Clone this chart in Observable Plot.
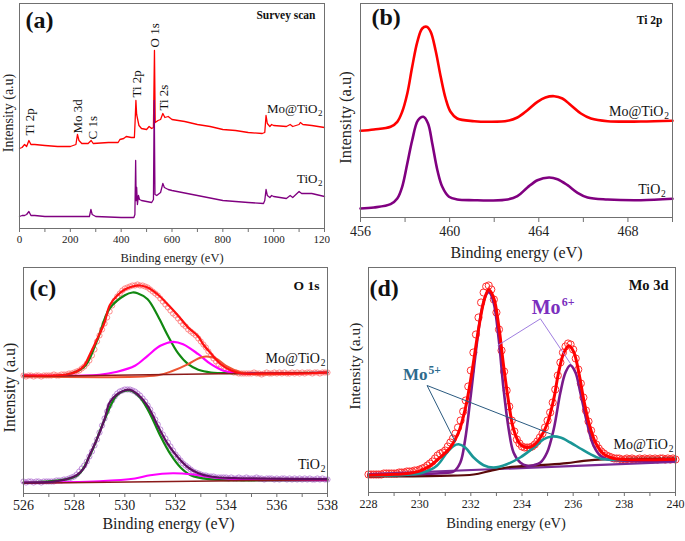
<!DOCTYPE html>
<html><head><meta charset="utf-8">
<script src="https://cdn.jsdelivr.net/npm/d3@7"></script>
<script src="https://cdn.jsdelivr.net/npm/@observablehq/plot@0.6"></script>
<style>
html,body{margin:0;padding:0;background:#fff;}
#fig{position:relative;width:685px;height:541px;overflow:hidden;}
</style></head><body><div id="fig"></div>
<script>
// ---------- (a) survey scan ----------
const surveyMoE = [0,10,20,28,37,45,60,100,150,200,222,228,234,245,270,282,290,350,388,395,410,420,440,452,455,458,461,465,470,480,500,510,520,527,531,534,545,555,564,572,585,600,650,700,750,800,850,900,955,965,970,975,985,992,1000,1050,1065,1075,1100,1105,1115,1150,1200];
const surveyMoV = [80,81,84,82,88,84,84,83,82,82,84,94,88,85,85,88,85,86,86,89,90,92,91,91,108,128,114,109,103,100,99,102,100,101,178,106,108,109,115,111,112,109,107,104,102,99,98,96,95,96,113,105,102,104,103,102,104,102,104,106,104,103,101];
const surveyTiE = [0,10,20,28,37,45,60,100,200,275,281,286,300,400,450,454,457,459,461,464,468,472,480,500,520,527,530,533,540,555,564,570,585,600,700,800,900,960,965,970,975,985,992,1000,1050,1065,1075,1100,1110,1150,1200];
const surveyTiV = [12,13,13,14,17,13,13,12,12,12,19,14,12,11,11,14,68,28,41,24,33,29,28,27,26,29,128,34,33,36,45,41,39,38,33,28,26,25,28,39,33,31,33,32,30,33,31,37,35,35,32];
const surveyMajor = [0,200,400,600,800,1000,1200];
const surveyMinor = [100,300,500,700,900,1100];
const surveyPeakNames = ["Ti 2p","Mo 3d","C 1s","Ti 2p","O 1s","Ti 2s"];
const surveyPeakE = [39,230,289,460,533,568];
const surveyPeakV = [93,95,89,131,181,118];
const seriesNames = ["Mo@TiO","TiO"];
const seriesSubs = ["2","2"];
const surveyLabelE = [1192,1192];
const surveyLabelV = [116,46];

// ---------- (b) Ti 2p ----------
const ti2pMoE = [456,456.6,457.35,457.65,457.87,458.1,458.32,458.55,458.77,458.97,459.15,459.37,459.6,459.82,460.04,460.34,461.1,461.84,462.6,463.04,463.49,463.94,464.3,464.69,465.06,465.44,465.89,466.34,467.09,468.58,470];
const ti2pMoV = [86.7,88,90.7,95.7,105.7,124,150.7,175.7,189,190.7,185.7,167,140.7,119,105.7,99,96.3,95.7,96.7,100,107.3,115.7,120,121.3,119,112.3,104,99,96.3,96,96.7];
const ti2pTiE = [456,456.6,457.35,457.65,457.87,458.1,458.32,458.58,458.82,459.03,459.22,459.45,459.67,459.97,460.34,461.1,461.84,462.6,463.04,463.49,463.94,464.46,464.84,465.29,465.74,466.19,467.09,468.58,470];
const ti2pTiV = [9,10,13.3,19,30.7,54,77.3,97.3,100.7,94,74,47.3,30.7,20.7,18,17.3,17,18,21.3,30,37.3,40,38.3,32.3,24.7,20,18,17.3,18.7];
const ti2pMajor = [456,460,464,468];
const ti2pMinor = [458,462,466,470];
const ti2pLabelE = [469.84,469.7];
const ti2pLabelV = [102,24];

// ---------- (c) O 1s ----------
const o1sStart = 526, o1sStep = 0.1;
const o1sMoData = [118,117,118,118,117,118,118,117,118,118, 118,118,119,118,118,119,119,119,120,120, 121,122,123,125,127,130,133,138,144,152, 158,164,170,176,182,188,193,197,200,203, 205,206,207,208,208,209,208,208,207,206, 204,202,200,198,195,192,189,186,183,180, 178,175,172,169,167,164,162,160,158,155, 152,149,146,142,138,135,132,129,127,125, 124,123,122,121,121,120,120,120,120,120, 120,121,120,120,119,120,121,120,120,121, 120,121,120,121,120,120,121,120,121,120, 121,120,121,121,120,121,121,120,121,121, 121];
const o1sTiData = [12,11,12,12,11,12,12,11,12,12, 12,12,12,13,13,13,14,14,15,16, 17,19,22,25,28,32,37,42,48,54, 61,68,75,82,88,93,97,100,102,103, 104,104,104,103,102,100,98,95,92,88, 84,79,74,69,64,59,55,51,47,43, 39,36,33,30,28,26,24,22,21,20, 19,18,18,17,17,17,16,16,16,16, 16,15,16,15,15,16,15,15,16,15, 15,15,16,15,15,14,15,15,15,14, 15,14,15,15,14,15,14,15,14,15, 14,15,14,15,14,14,15,14,15,14, 14];
const o1sMoEnvE = [526,527.1,527.7,528.1,528.4,528.6,528.9,529.2,529.4,529.7,530,530.3,530.6,530.9,531.3,531.7,532.1,532.5,532.9,533.1,533.4,533.8,534.2,534.6,535.6,536.9,538];
const o1sMoEnvV = [118,118,119,122,128,138,154,171,188,198,204,207,208,206,199,189,178,166,157,149,140,129,123,120,120,120,121];
const o1sMoGreenE = [526,527.7,528.4,528.9,529.4,530,530.3,530.5,530.9,531.3,531.7,532.1,532.5,532.9,533.4,534.3,538];
const o1sMoGreenV = [118,118.7,126.7,152.7,185,198.3,201,200.3,194.3,177.7,157.7,140.3,129.3,123.7,121,120.3,121];
const o1sMoMagE = [526,529,529.7,530.4,530.9,531.4,531.9,532.3,532.9,533.4,533.9,534.6,538];
const o1sMoMagV = [118,118.7,121.7,127.7,137.7,147.7,151.7,149.3,139.3,129.3,122.7,120.3,121];
const o1sMoOrE = [526,531.3,531.9,532.5,532.9,533.2,533.6,534,534.6,535.1,538];
const o1sMoOrV = [117.3,118.3,122.7,129.3,135,137,135,127.7,121,119.3,121];
const o1sMoBaseE = [526,534.5,538];
const o1sMoBaseV = [117,120,121];
const o1sTiEnvE = [526,527.1,527.7,528.1,528.4,528.6,528.9,529.2,529.4,529.7,530,530.2,530.5,530.9,531.3,531.7,532.1,532.5,532.9,533.4,534.3,535.6,538];
const o1sTiEnvV = [11,11.7,14.3,18.3,26,37.7,54.3,74.3,91,99.3,103.3,103.7,99.3,87.7,67.7,49.3,36,26,20.3,17,15.3,15,14.3];
const o1sTiGreenE = [526,528.1,528.6,529.2,529.7,530.2,530.6,531,531.4,531.8,532.2,532.6,533.3,534.3,538];
const o1sTiGreenV = [11,17.7,37,73.7,98.7,103,96,79.3,57.7,39.3,26,18.3,14.3,13.3,13.3];
const o1sTiMagE = [526,529,530.4,531,531.9,532.7,533.5,534.6,535.6,538];
const o1sTiMagV = [11,12.3,15,18.3,20.3,19,16,14,13.3,13.3];
const o1sTiBaseE = [526,538];
const o1sTiBaseV = [10.3,13.7];
const o1sMajor = [526,528,530,532,534,536,538];
const o1sMinor = [527,529,531,533,535,537];
const o1sLabelE = [537.92,537.92];
const o1sLabelV = [131,25];

// ---------- (d) Mo 3d ----------
const mo3dStart = 228, mo3dStep = 0.1;
const mo3dData = [18,18,18,18,18,18,19,19,19,19, 19,19,20,20,20,21,21,21,22,22, 23,24,25,27,29,31,34,37,39,40, 42,46,50,54,59,65,72,81,92,106, 122,140,158,175,190,200,206,207,203,193, 180,163,142,121,102,86,72,61,53,49, 46,45,45,45,46,48,51,55,59,65, 72,80,90,103,117,130,140,146,149,148, 143,134,123,109,95,82,71,62,54,48, 44,41,39,37,36,35,34,34,34,33, 33,34,33,34,33,33,34,33,34,33, 34,33,34,33,34,34,33,34,33,34, 33];
const mo3dEnvE = [228,228.85,229.5,230.02,230.41,230.8,231.2,231.52,231.78,232.04,232.3,232.53,232.7,232.89,233.09,233.28,233.48,233.67,233.93,234.2,234.46,234.72,234.98,235.24,235.43,235.63,235.83,236.02,236.22,236.41,236.61,236.87,237.2,237.59,238.37,240];
const mo3dEnvV = [17.3,18,19,21.7,26.7,35,45,60,83.3,120,163.3,193.3,202.7,195,166.7,126.7,90,63.3,48.3,45,47.3,55,68.3,93.3,120,139.3,146.7,140.7,120,93.3,70,50,38.3,34,32.7,33.3];
const mo6E = [228,229.5,230.8,231.33,231.59,231.78,231.98,232.24,232.43,232.63,232.73,232.89,233.09,233.28,233.48,233.67,233.93,234.2,234.46,234.72,234.98,235.24,235.5,235.7,235.89,236.09,236.28,236.54,236.8,237.06,237.33,238.63,240];
const mo6V = [17.3,18.3,19.3,21,30,53.3,93.3,150,183.3,199.3,200,190,153.3,103.3,63.3,40,30,26.7,27.3,30,40,63.3,100,120,127.3,120,100,70,46.7,36.7,33.3,31.7,32];
const mo5E = [228,229.5,230.15,230.67,231.07,231.33,231.52,231.78,232.11,232.5,232.89,233.41,233.93,234.46,234.85,235.17,235.5,235.89,236.28,236.67,237.06,237.46,238.5];
const mo5V = [16.7,17.7,20,26.7,40,46.7,48.3,45,35,27.3,25,28.3,35,45,53.3,56,55,50,44,38.3,34,32.7,33];
const mo3dShirleyE = [228,230.8,232.11,232.76,233.41,234.72,235.76,236.41,237.33,240];
const mo3dShirleyV = [16,16.7,18,21.7,25,27.3,29.3,31.7,33.3,34];
const mo3dLinE = [228,240];
const mo3dLinV = [18.3,30.7];
const mo3dMajor = [228,230,232,234,236,238,240];
const mo3dMinor = [229,231,233,235,237,239];
const mo3dLabelE = [239.92];
const mo3dLabelV = [44];
const mo6Text = {E: 235.51, v: 178.7};
const mo6Links = {x1: [234.72,234.72], y1: [173.7,173.7], x2: [233.05,235.9], y2: [147,128.7]};
const mo5Text = {E: 230.31, v: 112.7};
const mo5Links = {x1: [230.29,230.29], y1: [107,107], x2: [231.4,235.18], y2: [50.3,58]};

// ---------- helpers ----------
const FONT = "'Liberation Serif', 'Times New Roman', serif";
const FRAME = "#707070";
const rows = (E, V) => E.map((e, i) => ({E: e, v: V[i]}));
const gridRows = (start, step, V) => V.map((v, i) => ({E: +(start + i * step).toFixed(2), v}));
const labelRows = (names, subs, E, V) => names.map((n, i) => ({t: n, s: subs[i], E: E[i], v: V[i]}));

function subLabels(data, fs, subFs, subDy, subW) {
  return [
    Plot.text(data, {x: "E", y: "v", text: "t", textAnchor: "end", lineAnchor: "bottom", dx: -subW, fontSize: fs, fill: "#111"}),
    Plot.text(data, {x: "E", y: "v", text: "s", textAnchor: "end", lineAnchor: "bottom", dy: subDy, fontSize: subFs, fill: "#111"})
  ];
}
function common(o) {
  return [
    Plot.frame({stroke: FRAME, strokeWidth: 1}),
    Plot.axisX({ticks: o.major, tickSize: o.tickSize, tickPadding: o.tickPad, fontSize: o.tickFs, tickFormat: d => String(d), label: null, stroke: FRAME, fill: "#222"}),
    Plot.axisX({ticks: o.minor, tickSize: o.tickSize, tickFormat: () => "", label: null, stroke: FRAME}),
    Plot.text([o.title], {frameAnchor: "top-right", textAnchor: "end", lineAnchor: "middle", dx: o.titleDx, dy: o.titleDy, fontWeight: "bold", fontSize: o.titleFs, fill: "#111"}),
    Plot.text([o.letter], {frameAnchor: "top-left", textAnchor: "start", lineAnchor: "middle", dx: o.letterDx, dy: o.letterDy, fontWeight: "bold", fontSize: 24, fill: "#111"}),
    Plot.text(["Intensity (a.u)"], {frameAnchor: "left", rotate: -90, textAnchor: "middle", lineAnchor: "middle", dx: o.ylDx, dy: o.ylDy, fontSize: o.ylFs, fill: "#222"}),
    Plot.text(["Binding energy (eV)"], {frameAnchor: "bottom", textAnchor: "middle", lineAnchor: "middle", dx: o.xlDx, dy: o.xlDy, fontSize: o.xlFs, fill: "#222"})
  ];
}
const fig = document.getElementById("fig");
function place(svg, left, top) {
  svg.style.position = "absolute";
  svg.style.left = left + "px";
  svg.style.top = top + "px";
  fig.appendChild(svg);
}
const baseStyle = {fontFamily: FONT, fontSize: "11px", background: "white", maxWidth: "none"};

// ---------- panel (a) ----------
const pa = Plot.plot({
  width: 340, height: 265, marginTop: 3, marginRight: 16, marginBottom: 37, marginLeft: 19,
  style: baseStyle,
  x: {domain: [0, 1200]}, y: {domain: [0, 225], axis: null},
  marks: [
    Plot.line(rows(surveyMoE, surveyMoV), {x: "E", y: "v", stroke: "#ff0000", strokeWidth: 1.3}),
    Plot.line(rows(surveyTiE, surveyTiV), {x: "E", y: "v", stroke: "#800080", strokeWidth: 1.3}),
    Plot.text(surveyPeakNames.map((n, i) => ({t: n, E: surveyPeakE[i], v: surveyPeakV[i]})), {x: "E", y: "v", text: "t", rotate: -90, textAnchor: "start", lineAnchor: "middle", fontSize: 13, fill: "#111"}),
    ...subLabels(labelRows(seriesNames, seriesSubs, surveyLabelE, surveyLabelV), 13, 9, 3, 5),
    ...common({major: surveyMajor, minor: surveyMinor, tickSize: 4, tickPad: 3, tickFs: 11,
      title: "Survey scan", titleDx: -9, titleDy: 12, titleFs: 11.5,
      letter: "(a)", letterDx: 6, letterDy: 17,
      ylDx: -11, ylDy: -3, ylFs: 14, xlDx: 0, xlDy: 29, xlFs: 12.5})
  ]
});
place(pa, 0, 0);

// ---------- panel (b) ----------
const pb = Plot.plot({
  width: 355, height: 265, marginTop: 3, marginRight: 13, marginBottom: 48, marginLeft: 30,
  style: baseStyle,
  x: {domain: [456, 470]}, y: {domain: [0, 214], axis: null},
  marks: [
    Plot.line(rows(ti2pMoE, ti2pMoV), {x: "E", y: "v", stroke: "#ff0000", strokeWidth: 2.6, curve: "catmull-rom"}),
    Plot.line(rows(ti2pTiE, ti2pTiV), {x: "E", y: "v", stroke: "#800080", strokeWidth: 2.6, curve: "catmull-rom"}),
    ...subLabels(labelRows(seriesNames, seriesSubs, ti2pLabelE, ti2pLabelV), 14, 9.5, 3.5, 5.5),
    ...common({major: ti2pMajor, minor: ti2pMinor, tickSize: 5, tickPad: 4, tickFs: 14,
      title: "Ti 2p", titleDx: -10, titleDy: 17, titleFs: 11.5,
      letter: "(b)", letterDx: 11, letterDy: 14,
      ylDx: -15, ylDy: 7, ylFs: 16.5, xlDx: 0, xlDy: 35, xlFs: 16})
  ]
});
place(pb, 330, 0);

// ---------- panel (c) ----------
const pc = Plot.plot({
  width: 338, height: 276, marginTop: 2, marginRight: 11, marginBottom: 48, marginLeft: 23,
  style: baseStyle,
  x: {domain: [526, 538]}, y: {domain: [0, 226], axis: null},
  marks: [
    Plot.dot(gridRows(o1sStart, o1sStep, o1sMoData), {x: "E", y: "v", r: 2.6, stroke: "#ff7070", strokeWidth: 0.8, fill: "none"}),
    Plot.dot(gridRows(o1sStart, o1sStep, o1sTiData), {x: "E", y: "v", r: 2.6, stroke: "#b070d0", strokeWidth: 0.8, fill: "none"}),
    Plot.line(rows(o1sMoGreenE, o1sMoGreenV), {x: "E", y: "v", stroke: "#118811", strokeWidth: 2.2, curve: "catmull-rom"}),
    Plot.line(rows(o1sMoMagE, o1sMoMagV), {x: "E", y: "v", stroke: "#ff00ff", strokeWidth: 2.2, curve: "catmull-rom"}),
    Plot.line(rows(o1sMoOrE, o1sMoOrV), {x: "E", y: "v", stroke: "#ee5533", strokeWidth: 2, curve: "catmull-rom"}),
    Plot.line(rows(o1sMoBaseE, o1sMoBaseV), {x: "E", y: "v", stroke: "#8b1a1a", strokeWidth: 1.5}),
    Plot.line(rows(o1sMoEnvE, o1sMoEnvV), {x: "E", y: "v", stroke: "#ff1010", strokeWidth: 2.2, curve: "catmull-rom"}),
    Plot.line(rows(o1sTiGreenE, o1sTiGreenV), {x: "E", y: "v", stroke: "#118811", strokeWidth: 2.2, curve: "catmull-rom"}),
    Plot.line(rows(o1sTiMagE, o1sTiMagV), {x: "E", y: "v", stroke: "#ff00ff", strokeWidth: 2, curve: "catmull-rom"}),
    Plot.line(rows(o1sTiBaseE, o1sTiBaseV), {x: "E", y: "v", stroke: "#8b1a1a", strokeWidth: 1.5}),
    Plot.line(rows(o1sTiEnvE, o1sTiEnvV), {x: "E", y: "v", stroke: "#5e0f62", strokeWidth: 2.2, curve: "catmull-rom"}),
    ...subLabels(labelRows(seriesNames, seriesSubs, o1sLabelE, o1sLabelV), 14, 9.5, 3.5, 5.5),
    ...common({major: o1sMajor, minor: o1sMinor, tickSize: 4, tickPad: 3, tickFs: 14,
      title: "O 1s", titleDx: -8, titleDy: 18, titleFs: 13.5,
      letter: "(c)", letterDx: 6, letterDy: 21,
      ylDx: -14, ylDy: 7, ylFs: 16, xlDx: -7, xlDy: 30, xlFs: 16})
  ]
});
place(pc, 0, 265);

// ---------- panel (d) ----------
const pd = Plot.plot({
  width: 347, height: 276, marginTop: 2, marginRight: 10, marginBottom: 49, marginLeft: 30,
  style: baseStyle,
  x: {domain: [228, 240]}, y: {domain: [0, 225], axis: null},
  marks: [
    Plot.dot(gridRows(mo3dStart, mo3dStep, mo3dData), {x: "E", y: "v", r: 3.6, stroke: "#ff3030", strokeWidth: 1, fill: "none"}),
    Plot.line(rows(mo3dLinE, mo3dLinV), {x: "E", y: "v", stroke: "#7a2a96", strokeWidth: 2.2}),
    Plot.line(rows(mo3dShirleyE, mo3dShirleyV), {x: "E", y: "v", stroke: "#5a0a0a", strokeWidth: 2.2, curve: "catmull-rom"}),
    Plot.line(rows(mo6E, mo6V), {x: "E", y: "v", stroke: "#7a1a8a", strokeWidth: 2.6, curve: "catmull-rom"}),
    Plot.line(rows(mo5E, mo5V), {x: "E", y: "v", stroke: "#1a9696", strokeWidth: 2.6, curve: "catmull-rom"}),
    Plot.line(rows(mo3dEnvE, mo3dEnvV), {x: "E", y: "v", stroke: "#ff0000", strokeWidth: 3, curve: "catmull-rom"}),
    Plot.link(mo6Links.x1.map((_, i) => i), {x1: i => mo6Links.x1[i], y1: i => mo6Links.y1[i], x2: i => mo6Links.x2[i], y2: i => mo6Links.y2[i], stroke: "#a07ee0", strokeWidth: 1}),
    Plot.link(mo5Links.x1.map((_, i) => i), {x1: i => mo5Links.x1[i], y1: i => mo5Links.y1[i], x2: i => mo5Links.x2[i], y2: i => mo5Links.y2[i], stroke: "#2a5a80", strokeWidth: 1}),
    Plot.text([mo6Text], {x: "E", y: "v", text: () => "Mo", textAnchor: "end", lineAnchor: "bottom", fontSize: 20, fontWeight: "bold", fill: "#7b2fbe"}),
    Plot.text([mo6Text], {x: "E", y: "v", text: () => "6+", textAnchor: "start", lineAnchor: "bottom", dx: 1, dy: -8, fontSize: 12, fontWeight: "bold", fill: "#7b2fbe"}),
    Plot.text([mo5Text], {x: "E", y: "v", text: () => "Mo", textAnchor: "end", lineAnchor: "bottom", fontSize: 17, fontWeight: "bold", fill: "#2c6a8c"}),
    Plot.text([mo5Text], {x: "E", y: "v", text: () => "5+", textAnchor: "start", lineAnchor: "bottom", dx: 1, dy: -6, fontSize: 11.5, fontWeight: "bold", fill: "#2c6a8c"}),
    ...subLabels(labelRows([seriesNames[0]], [seriesSubs[0]], mo3dLabelE, mo3dLabelV), 14, 9.5, 3.5, 5.5),
    ...common({major: mo3dMajor, minor: mo3dMinor, tickSize: 4, tickPad: 3, tickFs: 12,
      title: "Mo 3d", titleDx: -7, titleDy: 18, titleFs: 14.5,
      letter: "(d)", letterDx: 1, letterDy: 21,
      ylDx: -13, ylDy: -14, ylFs: 15.5, xlDx: -16, xlDy: 31, xlFs: 14.5})
  ]
});
place(pd, 338, 265);
</script></body></html>
